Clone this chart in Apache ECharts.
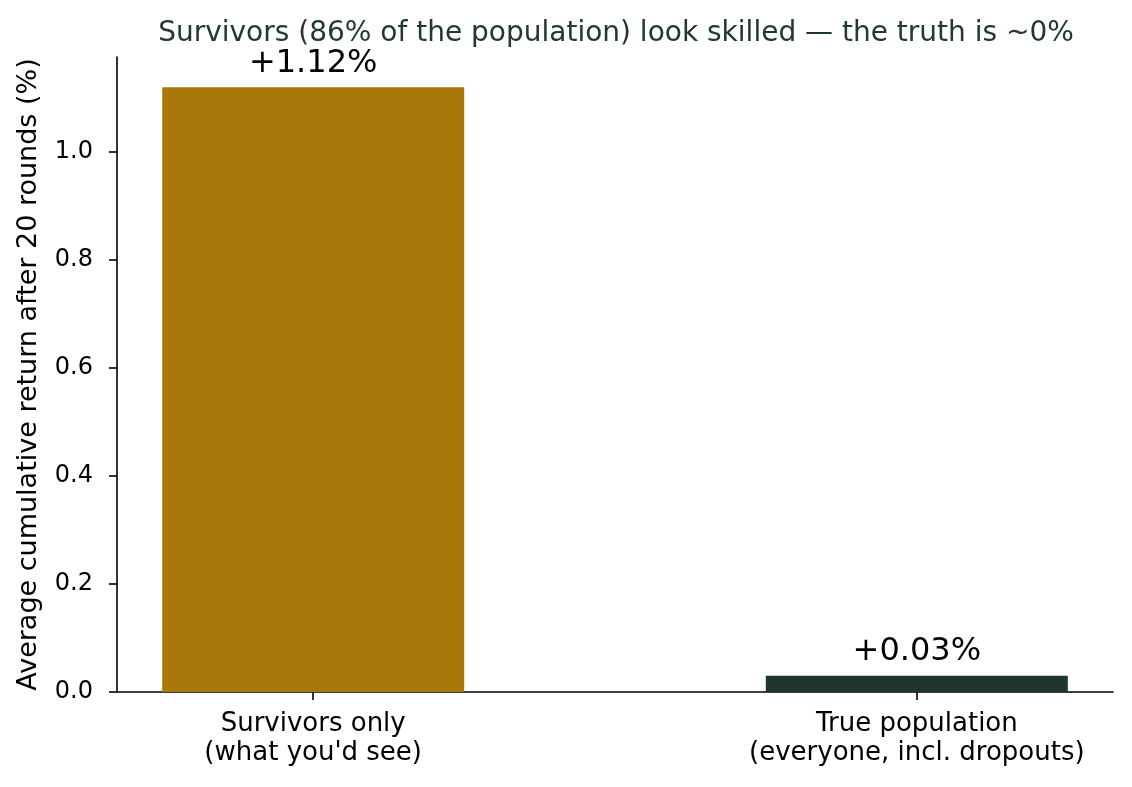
<!DOCTYPE html>
<html>
<head>
<meta charset="utf-8">
<script src="https://cdn.jsdelivr.net/npm/echarts@6/dist/echarts.min.js"></script>
<style>
html,body{margin:0;padding:0;background:#fff;}
#c{width:1132px;height:787px;}
</style>
</head>
<body>
<div id="c"></div>
<script>
const categories = ["Survivors only\n(what you'd see)", "True population\n(everyone, incl. dropouts)"];
const positions = [0, 1];
const values = [1.12, 0.03];
const yTicks = [0, 0.2, 0.4, 0.6, 0.8, 1.0];
const titleText = "Survivors (86% of the population) look skilled \u2014 the truth is ~0%";
const yName = "Average cumulative return after 20 rounds (%)";

const barColors = ['#a8780b', '#1f362d'];
const font = 'DejaVu Sans';

const chart = echarts.init(document.getElementById('c'), null, {renderer: 'canvas'});
chart.setOption({
  backgroundColor: '#ffffff',
  animation: false,
  title: {
    text: titleText,
    left: 611,
    textAlign: 'center',
    top: 15,
    textStyle: {fontFamily: font, fontSize: 28, fontWeight: 'normal', color: '#213a30'}
  },
  grid: {left: 117, right: 19, top: 57, bottom: 95, containLabel: false},
  xAxis: {
    type: 'value',
    min: -0.325,
    max: 1.325,
    splitLine: {show: false},
    axisLine: {show: true, onZero: false, lineStyle: {color: '#000', width: 1.6}},
    axisTick: {show: true, customValues: positions, length: 8, lineStyle: {color: '#000', width: 1.6}},
    axisLabel: {
      customValues: positions,
      formatter: v => categories[Math.round(v)],
      fontFamily: font, fontSize: 26, color: '#000', lineHeight: 29, margin: 18
    }
  },
  yAxis: {
    type: 'value',
    min: 0,
    max: 1.176,
    name: yName,
    nameLocation: 'middle',
    nameGap: 75,
    nameTextStyle: {fontFamily: font, fontSize: 27, color: '#000'},
    splitLine: {show: false},
    axisLine: {show: true, onZero: false, lineStyle: {color: '#000', width: 1.6}},
    axisTick: {show: true, customValues: yTicks, length: 8, lineStyle: {color: '#000', width: 1.6}},
    axisLabel: {
      customValues: yTicks,
      formatter: v => v.toFixed(1),
      fontFamily: font, fontSize: 24, color: '#000', margin: 24
    }
  },
  series: [{
    type: 'bar',
    barWidth: 302,
    data: values.map((v, i) => ({value: [positions[i], v], itemStyle: {color: barColors[i]}})),
    label: {
      show: true,
      position: 'top',
      distance: 8,
      formatter: p => '+' + p.value[1].toFixed(2) + '%',
      fontFamily: font, fontSize: 32, color: '#000'
    }
  }]
});
</script>
</body>
</html>
